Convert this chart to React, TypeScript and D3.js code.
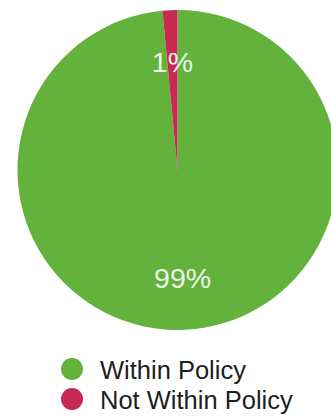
import React from "react";
import * as d3 from "d3";

const categories = ["Within Policy", "Not Within Policy"];
const values = [98.5, 1.5];
const pctLabels = ["99%", "1%"];
const colors = ["#62b23c", "#c82a52"];

export default function App() {
  const W = 331, H = 416;
  const cx = 177.5, cy = 170, r = 160;
  const pie = d3.pie<number>().sort(null).value((d) => d);
  const arcs = pie(values);
  const arc = d3.arc<d3.PieArcDatum<number>>().innerRadius(0).outerRadius(r);
  const labelArc = d3.arc<d3.PieArcDatum<number>>().innerRadius(108).outerRadius(108);
  return (
    <div style={{ position: "absolute", left: 0, top: 0 }}>
      <svg width={W} height={H} style={{ display: "block", fontFamily: "'Liberation Sans', Arial, Helvetica, sans-serif" }}>
        <rect width={W} height={H} fill="#ffffff" />
        <g transform={`translate(${cx},${cy})`}>
          {arcs.map((a, i) => (
            <path key={i} d={arc(a) || ""} fill={colors[i]} />
          ))}
          {arcs.map((a, i) => {
            const [x, y] = labelArc.centroid(a);
            return (
              <text key={i} x={x} y={y} textAnchor="middle" dominantBaseline="central" fill="#eef4e8" fontSize={28.5}>
                {pctLabels[i]}
              </text>
            );
          })}
        </g>
        <g>
          {categories.map((c, i) => (
            <g key={c} transform={`translate(0,${369 + i * 30})`}>
              <circle cx={72} cy={0} r={11} fill={colors[i]} />
              <text x={100} y={9.5} fontSize={25.5} fill="#1e1e1e">{c}</text>
            </g>
          ))}
        </g>
      </svg>
    </div>
  );
}
